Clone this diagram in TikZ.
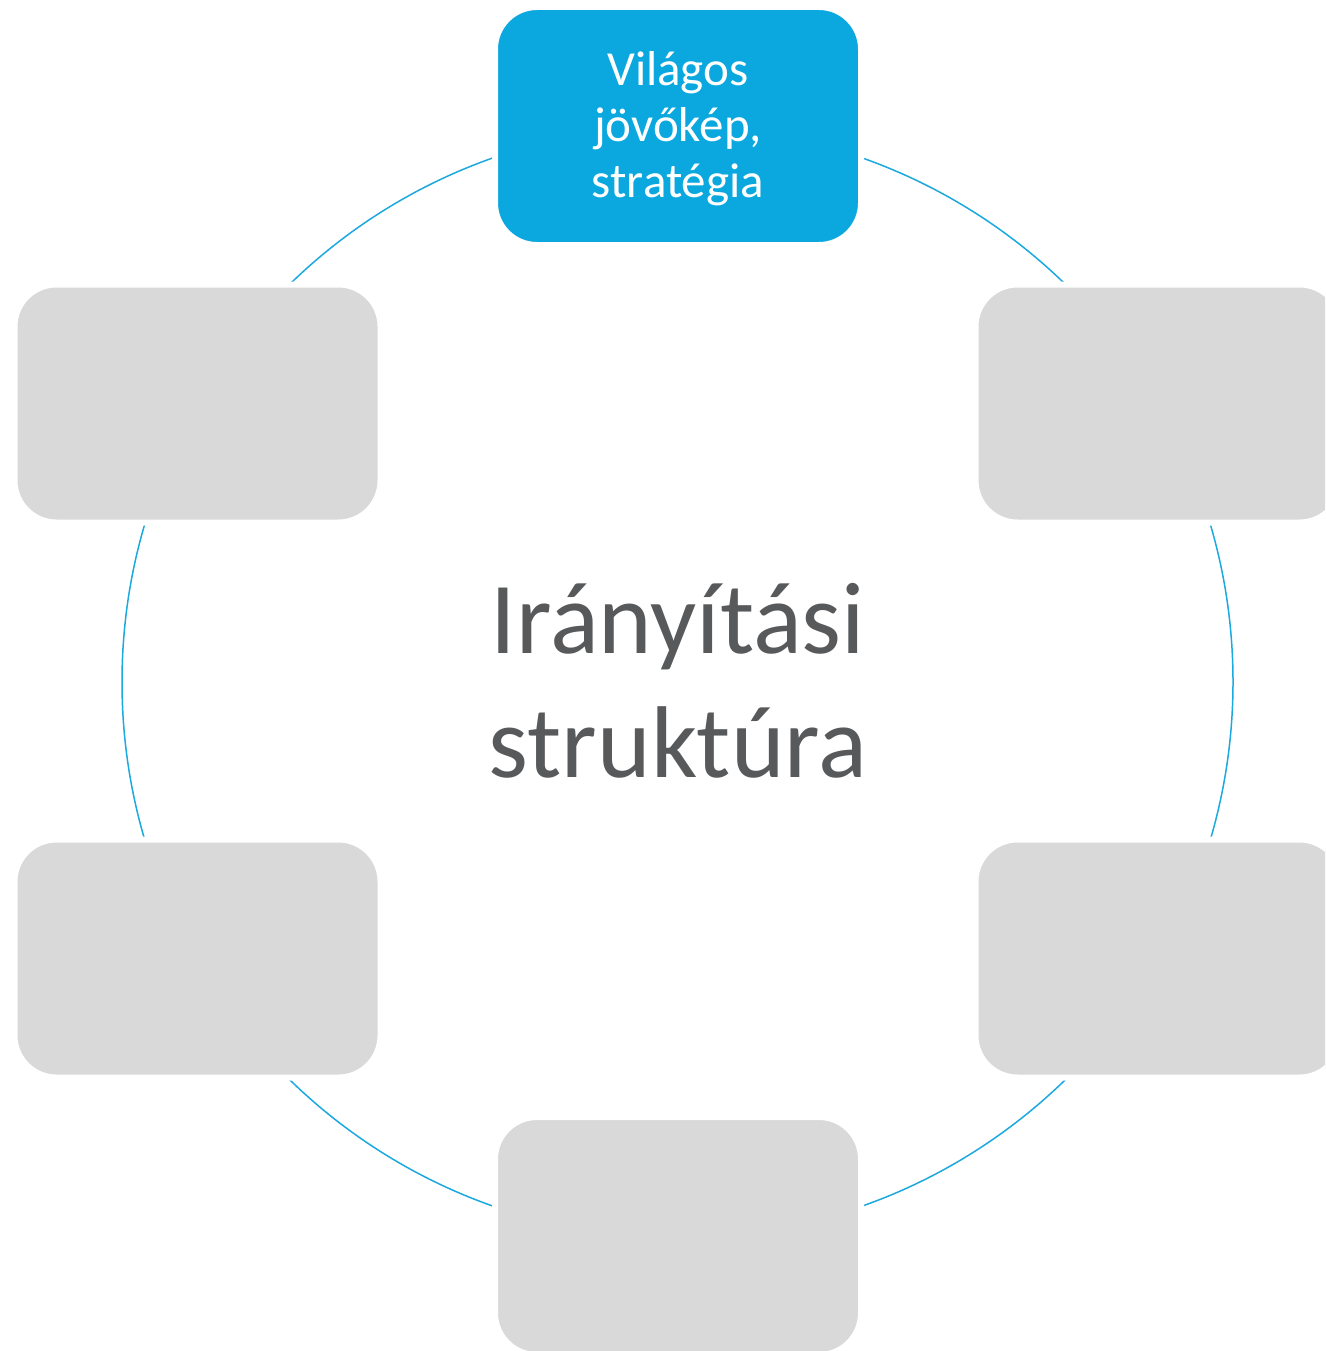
\documentclass[tikz,border=0pt]{standalone}
\usepackage{fontspec}
\setmainfont{Carlito}
\definecolor{cblue}{RGB}{10,168,223}
\definecolor{cline}{RGB}{28,169,224}
\definecolor{cgray}{RGB}{217,217,217}
\definecolor{ctext}{RGB}{88,89,91}
\tikzset{
  card/.style={rectangle, rounded corners=42pt, minimum width=366pt, minimum height=238pt,
    draw=white, line width=6pt, inner sep=0pt},
  bluecard/.style={card, fill=cblue, text=white, align=center,
    font=\fontsize{49}{56}\selectfont},
  graycard/.style={card, fill=cgray},
  centertext/.style={text=ctext, font=\fontsize{102}{124}\selectfont, anchor=base, inner sep=0pt},
  ring/.style={draw=cline, line width=1.5pt}
}
\begin{document}
\begin{tikzpicture}[x=1pt,y=-1pt]
\useasboundingbox (0,0) rectangle (1325,1351);
\clip (0,0) rectangle (1325,1351);
\fill[white] (0,0) rectangle (1325,1351);
\coordinate (o) at (677.5,682);
\draw[ring] (o) circle[radius=555.5];
\node[bluecard, text depth=4pt] (top) at (678,126) {Világos\\jövőkép,\\stratégia};
\node[graycard] (ul) at (197.5,403.5) {};
\node[graycard] (ur) at (1158.5,403.5) {};
\node[graycard] (ll) at (197.5,958.5) {};
\node[graycard] (lr) at (1158.5,958.5) {};
\node[graycard] (bot) at (678,1236) {};
\node[centertext] (c1) at (678,653) {Irányítási};
\node[centertext] (c2) at (678,777) {struktúra};
\end{tikzpicture}
\end{document}
